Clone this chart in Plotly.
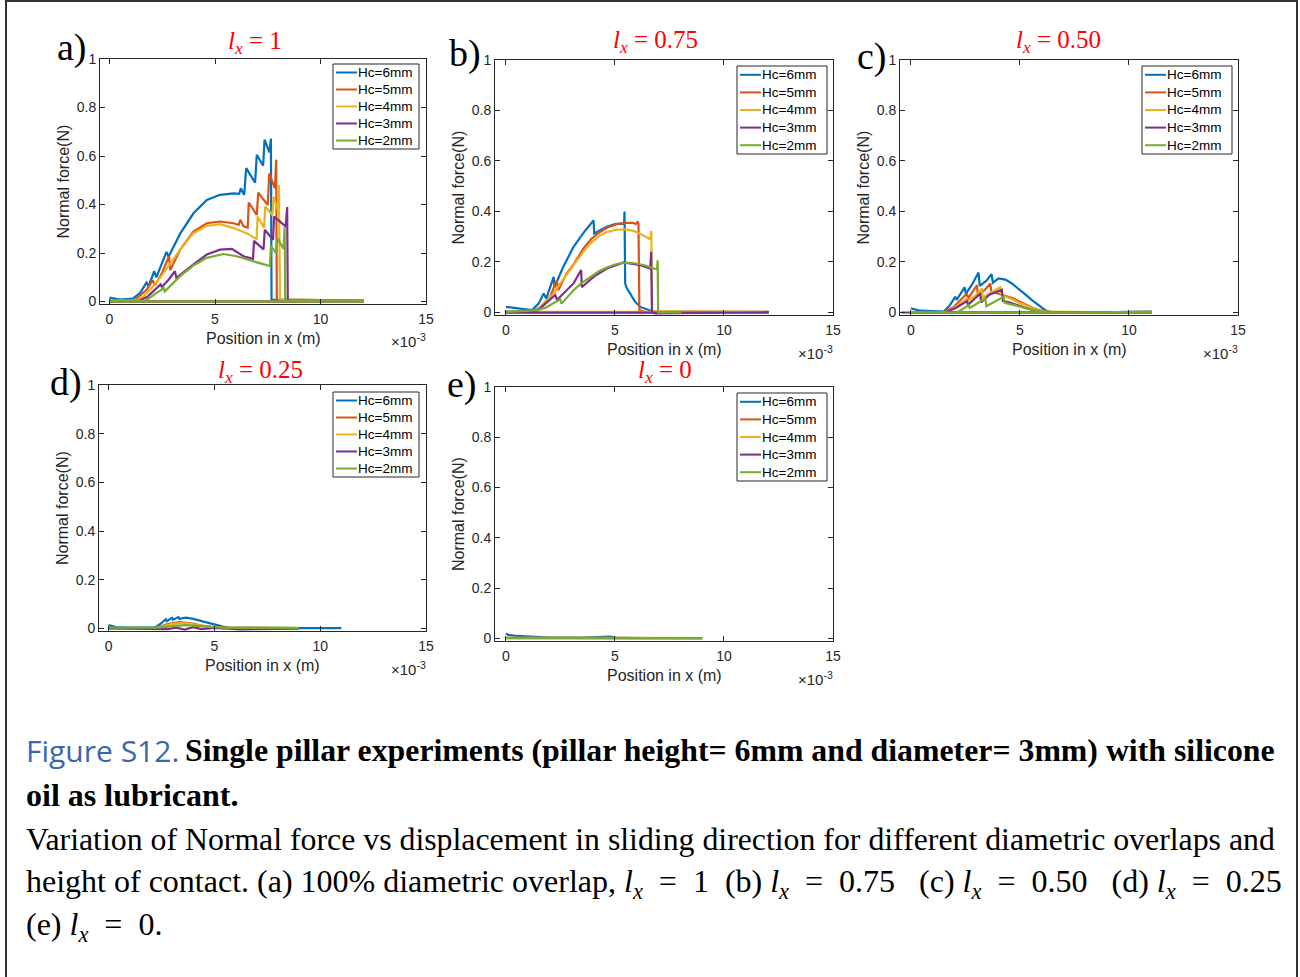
import plotly.graph_objects as go

W, H = 1300, 977

# ---------------- data (x in units of 1e-3 m, y in N) ----------------
SERIES_NAMES = ['Hc=6mm', 'Hc=5mm', 'Hc=4mm', 'Hc=3mm', 'Hc=2mm']
SERIES_COLORS = ['#0072BD', '#D95319', '#EDB120', '#7E2F8E', '#77AC30']
PANEL_LETTERS = ['a)', 'b)', 'c)', 'd)', 'e)']
PANEL_LX = ['1', '0.75', '0.50', '0.25', '0']
X_TICKS = [0, 5, 10, 15]
X_TICK_TEXT = ['0', '5', '10', '15']
Y_TICKS = [0, 0.2, 0.4, 0.6, 0.8, 1]
Y_TICK_TEXT = ['0', '0.2', '0.4', '0.6', '0.8', '1']

# panel a) l_x = 1
A6_X = [0, 0.5, 1.1, 1.45, 1.75, 1.85, 2.12, 2.22, 2.7, 2.8, 3.35, 3.98, 4.61, 5.24, 5.88, 6.15, 6.22, 6.38, 6.48, 6.9, 6.98, 7.28, 7.35, 7.58, 7.65, 7.68, 12.0, 12.0, 0.0]
A6_Y = [0.016, 0.008, 0.012, 0.035, 0.078, 0.064, 0.125, 0.1, 0.205, 0.185, 0.28, 0.364, 0.419, 0.44, 0.446, 0.444, 0.467, 0.44, 0.55, 0.49, 0.605, 0.56, 0.668, 0.615, 0.672, 0.008, 0.004, 0.001, 0.001]
A5_X = [0, 1.2, 1.45, 1.77, 2.05, 2.15, 2.5, 2.82, 2.88, 3.35, 3.98, 4.61, 5.24, 5.88, 6.12, 6.2, 6.35, 6.55, 6.6, 6.98, 7.05, 7.5, 7.57, 7.84, 7.9, 7.93, 12.0, 12.0, 0.0]
A5_Y = [0.004, 0.006, 0.025, 0.05, 0.088, 0.066, 0.12, 0.187, 0.13, 0.214, 0.289, 0.323, 0.33, 0.323, 0.316, 0.337, 0.31, 0.305, 0.408, 0.357, 0.449, 0.398, 0.528, 0.467, 0.585, 0.008, 0.004, 0.001, 0.001]
A4_X = [0, 1.3, 1.6, 2.08, 2.4, 2.8, 3.35, 3.98, 4.61, 5.24, 5.88, 6.5, 6.97, 7.02, 7.33, 7.38, 7.72, 7.78, 7.97, 8.03, 8.08, 12.0, 12.0, 0.0]
A4_Y = [0.003, 0.005, 0.02, 0.064, 0.098, 0.146, 0.214, 0.282, 0.312, 0.319, 0.303, 0.282, 0.258, 0.35, 0.303, 0.392, 0.357, 0.432, 0.378, 0.48, 0.008, 0.004, 0.001, 0.001]
A3_X = [0, 1.4, 1.8, 2.08, 2.42, 2.48, 2.8, 3.1, 3.17, 3.98, 4.61, 5.24, 5.8, 6.35, 6.8, 6.85, 7.3, 7.36, 7.75, 7.8, 8.35, 8.42, 8.45, 12.0, 12.0, 0.0]
A3_Y = [0.002, 0.003, 0.02, 0.044, 0.071, 0.06, 0.09, 0.125, 0.098, 0.153, 0.194, 0.214, 0.217, 0.187, 0.176, 0.25, 0.215, 0.296, 0.255, 0.35, 0.31, 0.39, 0.005, 0.003, 0.001, 0.001]
A2_X = [0, 1.7, 2.0, 2.24, 2.5, 2.56, 2.62, 3.35, 3.98, 4.61, 5.4, 6.03, 6.82, 7.6, 7.65, 7.9, 7.95, 8.25, 8.3, 8.33, 12.0, 12.0, 0.0]
A2_Y = [0.002, 0.004, 0.02, 0.037, 0.05, 0.06, 0.042, 0.105, 0.149, 0.18, 0.196, 0.187, 0.166, 0.146, 0.228, 0.2, 0.262, 0.217, 0.307, 0.005, 0.003, 0.001, 0.001]

# panel b) l_x = 0.75
B6_X = [0, 0.5, 1.19, 1.5, 1.73, 1.85, 2.19, 2.23, 2.6, 3.1, 3.6, 4.02, 4.05, 4.3, 4.63, 5.0, 5.24, 5.42, 5.44, 5.47, 5.55, 5.7, 5.9, 6.16, 6.5, 6.77, 12.0, 12.0, 0.0]
B6_Y = [0.022, 0.016, 0.009, 0.035, 0.075, 0.055, 0.141, 0.1, 0.175, 0.26, 0.32, 0.365, 0.313, 0.325, 0.339, 0.35, 0.352, 0.35, 0.4, 0.115, 0.095, 0.075, 0.045, 0.022, 0.01, 0.003, 0.002, 0.0, 0.0]
B5_X = [0, 1.2, 1.56, 2.02, 2.33, 2.4, 2.78, 3.1, 3.55, 3.9, 4.31, 4.7, 5.08, 5.5, 5.84, 5.95, 6.05, 6.08, 6.12, 6.5, 12.0, 12.0, 0.0]
B5_Y = [0.002, 0.003, 0.021, 0.061, 0.127, 0.088, 0.154, 0.19, 0.253, 0.29, 0.319, 0.338, 0.35, 0.355, 0.355, 0.35, 0.36, 0.35, 0.01, 0.0, 0.001, 0.0, 0.0]
B4_X = [0, 1.3, 1.57, 1.88, 2.19, 2.49, 2.8, 3.1, 3.55, 3.87, 4.3, 4.63, 5.08, 5.5, 5.86, 6.2, 6.62, 6.67, 6.7, 12.0, 12.0, 0.0]
B4_Y = [0.002, 0.004, 0.022, 0.05, 0.075, 0.115, 0.15, 0.187, 0.24, 0.273, 0.305, 0.319, 0.328, 0.328, 0.323, 0.31, 0.29, 0.323, 0.005, 0.004, 0.002, 0.002]
B3_X = [-0.05, 1.3, 1.57, 1.9, 2.26, 2.35, 2.8, 3.1, 3.45, 3.48, 4.02, 4.63, 5.4, 6.16, 6.62, 6.66, 6.7, 6.85, 12.0, 12.0, 0.0]
B3_Y = [0.002, 0.003, 0.016, 0.04, 0.069, 0.05, 0.09, 0.115, 0.168, 0.1, 0.141, 0.174, 0.198, 0.187, 0.174, 0.24, 0.0, -0.004, 0.001, 0.0, 0.0]
B2_X = [0, 1.42, 1.8, 2.03, 2.3, 2.49, 2.55, 2.8, 3.1, 3.45, 3.87, 4.25, 4.63, 5.0, 5.4, 5.8, 6.16, 6.55, 6.93, 6.96, 6.98, 8.05]
B2_Y = [0.002, 0.009, 0.018, 0.029, 0.04, 0.052, 0.035, 0.06, 0.088, 0.115, 0.141, 0.162, 0.178, 0.19, 0.197, 0.196, 0.191, 0.182, 0.17, 0.207, 0.0, 0.0]

# panel c) l_x = 0.50
C6_X = [0, 0.43, 1.5, 1.8, 2.03, 2.1, 2.46, 2.52, 2.8, 3.1, 3.16, 3.45, 3.7, 3.76, 4.02, 4.33, 4.63, 4.86, 5.09, 5.3, 5.55, 5.85, 6.16, 6.5, 11.0, 11.0, 0.0]
C6_Y = [0.016, 0.007, 0.003, 0.03, 0.062, 0.05, 0.1, 0.075, 0.11, 0.158, 0.105, 0.125, 0.152, 0.118, 0.135, 0.13, 0.115, 0.1, 0.082, 0.068, 0.049, 0.028, 0.009, 0.0, 0.002, 0.0, 0.0]
C5_X = [0, 1.5, 1.96, 2.3, 2.57, 2.62, 3.03, 3.07, 3.4, 3.64, 3.69, 4.0, 4.25, 4.71, 5.0, 5.32, 5.6, 5.93, 6.39, 11.0, 11.0, 0.0]
C5_Y = [0.001, 0.001, 0.022, 0.05, 0.075, 0.055, 0.108, 0.069, 0.09, 0.115, 0.082, 0.075, 0.069, 0.055, 0.042, 0.029, 0.018, 0.009, 0.0, 0.002, 0.0, 0.0]
C4_X = [0, 1.65, 2.1, 2.57, 2.62, 3.0, 3.26, 3.3, 3.7, 4.1, 4.15, 4.4, 4.71, 5.0, 5.32, 5.7, 6.09, 11.0, 11.0, 0.0]
C4_Y = [0.001, 0.001, 0.025, 0.055, 0.045, 0.07, 0.095, 0.06, 0.08, 0.1, 0.07, 0.062, 0.049, 0.037, 0.025, 0.013, 0.003, 0.002, 0.0, 0.0]
C3_X = [-0.45, 1.6, 2.1, 2.57, 2.62, 3.18, 3.22, 3.6, 4.17, 4.22, 4.5, 4.86, 5.2, 5.63, 6.09, 11.0, 11.0, -0.45]
C3_Y = [0.0, 0.0, 0.02, 0.045, 0.03, 0.075, 0.04, 0.07, 0.09, 0.045, 0.04, 0.029, 0.02, 0.009, 0.0, 0.002, 0.0, 0.0]
C2_X = [0, 2.1, 2.4, 2.65, 2.7, 3.0, 3.41, 3.46, 3.9, 4.25, 4.3, 4.4, 4.7, 5.02, 5.4, 5.78, 6.24, 11.0, 11.0, 0.0]
C2_Y = [0.001, 0.0, 0.015, 0.029, 0.018, 0.035, 0.055, 0.025, 0.045, 0.062, 0.04, 0.036, 0.03, 0.022, 0.014, 0.007, 0.0, 0.002, 0.0, 0.0]

# panel d) l_x = 0.25
D6_X = [0, 0.35, 1.0, 2.2, 2.5, 2.7, 2.75, 3.0, 3.05, 3.3, 3.35, 3.66, 4.0, 4.3, 4.7, 5.09, 5.4, 5.72, 7.0, 9.0, 11.0]
D6_Y = [0.014, 0.006, 0.004, 0.005, 0.022, 0.038, 0.03, 0.044, 0.036, 0.047, 0.04, 0.045, 0.04, 0.033, 0.024, 0.015, 0.008, 0.003, 0.002, 0.002, 0.002]
D5_X = [0, 2.3, 2.72, 3.0, 3.35, 3.7, 3.98, 4.4, 4.93, 5.5, 7.0, 9.0]
D5_Y = [0.002, 0.003, 0.016, 0.022, 0.026, 0.024, 0.02, 0.012, 0.006, 0.003, 0.002, 0.002]
D4_X = [0, 2.3, 2.7, 3.0, 3.4, 3.8, 4.2, 4.8, 5.5, 7.0, 9.0]
D4_Y = [0.002, 0.003, 0.012, 0.018, 0.022, 0.02, 0.014, 0.007, 0.003, 0.002, 0.002]
D3_X = [0, 2.3, 2.8, 3.2, 3.6, 4.0, 4.4, 5.0, 5.6, 6.2, 9.0]
D3_Y = [0.001, 0.0, -0.002, 0.004, -0.004, 0.006, -0.002, 0.003, 0.0, -0.003, 0.0]
D2_X = [0, 2.3, 2.8, 3.2, 3.6, 4.0, 4.5, 5.0, 5.6, 7.0, 9.0]
D2_Y = [0.004, 0.004, 0.008, 0.012, 0.014, 0.012, 0.009, 0.006, 0.003, 0.003, 0.003]

# panel e) l_x = 0
E6_X = [0, 0.1, 0.5, 1.0, 2.0, 3.5, 4.2, 4.8, 5.0, 6.0, 9.0]
E6_Y = [0.02, 0.014, 0.01, 0.007, 0.004, 0.004, 0.006, 0.007, 0.004, 0.002, 0.002]
E5_X = [0, 3.0, 5.0, 7.0, 9.0]
E5_Y = [0.003, 0.003, 0.002, 0.002, 0.002]
E4_X = [0, 4.0, 5.0, 9.0]
E4_Y = [0.003, 0.004, 0.003, 0.002]
E3_X = [0, 4.0, 6.5, 9.0]
E3_Y = [0.001, 0.0, -0.002, 0.0]
E2_X = [0, 3.0, 6.0, 9.0]
E2_Y = [0.002, 0.002, 0.002, 0.002]

PANEL_DATA = [
    [(A6_X, A6_Y), (A5_X, A5_Y), (A4_X, A4_Y), (A3_X, A3_Y), (A2_X, A2_Y)],
    [(B6_X, B6_Y), (B5_X, B5_Y), (B4_X, B4_Y), (B3_X, B3_Y), (B2_X, B2_Y)],
    [(C6_X, C6_Y), (C5_X, C5_Y), (C4_X, C4_Y), (C3_X, C3_Y), (C2_X, C2_Y)],
    [(D6_X, D6_Y), (D5_X, D5_Y), (D4_X, D4_Y), (D3_X, D3_Y), (D2_X, D2_Y)],
    [(E6_X, E6_Y), (E5_X, E5_Y), (E4_X, E4_Y), (E3_X, E3_Y), (E2_X, E2_Y)],
]

# ---------------- layout geometry (pixels) ----------------
BOXES = [(100, 426, 59, 304), (495, 833, 60, 315), (900, 1238, 60, 315),
         (99, 426, 385, 631), (495, 833, 387, 641)]
XMIN = [-0.45, -0.5, -0.5, -0.45, -0.5]
TITLE_POS = [(255, 42), (655, 41), (1058, 41), (260, 371), (665, 372)]
LETTER_POS = [(89, 47), (483, 53), (889, 56), (84, 382), (479, 384)]
LEG_BOX = [(333, 419, 64, 149), (737, 827, 66, 154), (1142, 1232, 66, 154),
           (333, 419, 392, 477), (737, 827, 393, 481)]

def fx(p):
    return p / W

def fy(p):
    return 1 - p / H

AX_COLOR = '#262626'
SANS = 'Liberation Sans, Arial, sans-serif'
SERIF = 'Liberation Serif, Times New Roman, serif'
NB = '\u00a0'

fig = go.Figure()
layout = dict(width=W, height=H, margin=dict(l=0, r=0, t=0, b=0, pad=0, autoexpand=False),
              paper_bgcolor='white', plot_bgcolor='white', showlegend=False)
annotations = []
shapes = []

for i, series in enumerate(PANEL_DATA):
    n = '' if i == 0 else str(i + 1)
    L, R, T, B = BOXES[i]
    for k, (xs, ys) in enumerate(series):
        fig.add_trace(go.Scatter(x=xs, y=ys, mode='lines', name=SERIES_NAMES[k],
                                 line=dict(color=SERIES_COLORS[k], width=2.2),
                                 xaxis='x' + n, yaxis='y' + n, showlegend=False))
    common = dict(ticks='inside', ticklen=5, tickcolor=AX_COLOR, showline=True,
                  mirror='ticks', linecolor=AX_COLOR, linewidth=1, showgrid=False,
                  zeroline=False, automargin=False,
                  tickfont=dict(family=SANS, size=14, color=AX_COLOR))
    layout['xaxis' + n] = dict(domain=[fx(L), fx(R)], range=[XMIN[i], 15],
                               tickvals=X_TICKS, ticktext=X_TICK_TEXT,
                               ticklabelstandoff=2, anchor='y' + n, **common)
    layout['yaxis' + n] = dict(domain=[fy(B), fy(T)], range=[-0.01, 1],
                               tickvals=Y_TICKS, ticktext=Y_TICK_TEXT,
                               anchor='x' + n, **common)
    cx = (L + R) / 2
    annotations.append(dict(text='Position in x (m)', x=fx(cx), y=fy(B + 34),
                            xref='paper', yref='paper', showarrow=False,
                            xanchor='center', yanchor='middle',
                            font=dict(family=SANS, size=16, color=AX_COLOR)))
    annotations.append(dict(text='\u00d710<sup>-3</sup>', x=fx(R + 2), y=fy(B + 37),
                            xref='paper', yref='paper', showarrow=False,
                            xanchor='right', yanchor='middle',
                            font=dict(family=SANS, size=15, color=AX_COLOR)))
    annotations.append(dict(text='Normal force(N)', x=fx(L - 37), y=fy((T + B) / 2),
                            xref='paper', yref='paper', showarrow=False, textangle=-90,
                            xanchor='center', yanchor='middle',
                            font=dict(family=SANS, size=16, color=AX_COLOR)))
    tx, ty = TITLE_POS[i]
    annotations.append(dict(text='<i>l</i><sub><i>x</i></sub>' + NB + '=' + NB + PANEL_LX[i],
                            x=fx(tx), y=fy(ty), xref='paper', yref='paper',
                            showarrow=False, xanchor='center', yanchor='middle',
                            font=dict(family=SERIF, size=25, color='#FF0000')))
    lx, ly = LETTER_POS[i]
    annotations.append(dict(text=PANEL_LETTERS[i], x=fx(lx), y=fy(ly),
                            xref='paper', yref='paper', showarrow=False,
                            xanchor='right', yanchor='middle',
                            font=dict(family=SERIF, size=38, color='black')))
    bl, br, bt, bb = LEG_BOX[i]
    shapes.append(dict(type='rect', xref='paper', yref='paper', x0=fx(bl), x1=fx(br),
                       y0=fy(bb), y1=fy(bt), line=dict(color=AX_COLOR, width=1),
                       fillcolor='white', layer='above'))
    step = (bb - bt) / 5.0
    for k in range(5):
        yy = bt + step * (k + 0.5)
        shapes.append(dict(type='line', xref='paper', yref='paper', x0=fx(bl + 3),
                           x1=fx(bl + 24), y0=fy(yy), y1=fy(yy),
                           line=dict(color=SERIES_COLORS[k], width=2), layer='above'))
        annotations.append(dict(text=SERIES_NAMES[k], x=fx(bl + 23), y=fy(yy),
                                xref='paper', yref='paper', showarrow=False,
                                xanchor='left', yanchor='middle',
                                font=dict(family=SANS, size=13.5, color='black')))

# outer frame
shapes.append(dict(type='rect', xref='paper', yref='paper', x0=fx(6), x1=fx(1297),
                   y0=fy(990), y1=fy(1), line=dict(color='#333333', width=2),
                   layer='above'))

# caption
CAP = 32
LX = '<i>l</i><sub><i>x</i></sub>' + NB * 2 + '=' + NB * 2
annotations.append(dict(text='Figure S12.', x=fx(24), y=fy(750), xref='paper', yref='paper',
                        showarrow=False, xanchor='left', yanchor='middle',
                        font=dict(family='Open Sans, sans-serif', size=30, color='#3A66B0')))
annotations.append(dict(text='<b>Single pillar experiments (pillar height= 6mm and diameter= 3mm) with silicone</b>',
                        x=fx(183), y=fy(750), xref='paper', yref='paper', showarrow=False,
                        xanchor='left', yanchor='middle',
                        font=dict(family=SERIF, size=31.8, color='black')))
annotations.append(dict(text='<b>oil as lubricant.</b>', x=fx(24), y=fy(795),
                        xref='paper', yref='paper', showarrow=False,
                        xanchor='left', yanchor='middle',
                        font=dict(family=SERIF, size=CAP, color='black')))
annotations.append(dict(text='Variation of Normal force vs displacement in sliding direction for different diametric overlaps and',
                        x=fx(24), y=fy(839), xref='paper', yref='paper', showarrow=False,
                        xanchor='left', yanchor='middle',
                        font=dict(family=SERIF, size=31.8, color='black')))
annotations.append(dict(text='height of contact. (a) 100% diametric overlap, ' + LX + '1' + NB + ' (b) ' + LX +
                        '0.75' + NB * 2 + ' (c) ' + LX + '0.50' + NB * 2 + ' (d) ' + LX + '0.25',
                        x=fx(24), y=fy(883), xref='paper', yref='paper', showarrow=False,
                        xanchor='left', yanchor='middle',
                        font=dict(family=SERIF, size=CAP, color='black')))
annotations.append(dict(text='(e) ' + LX + '0.', x=fx(24), y=fy(926),
                        xref='paper', yref='paper', showarrow=False,
                        xanchor='left', yanchor='middle',
                        font=dict(family=SERIF, size=CAP, color='black')))

layout['annotations'] = annotations
layout['shapes'] = shapes
fig.update_layout(**layout)
fig.write_html('out.html')
